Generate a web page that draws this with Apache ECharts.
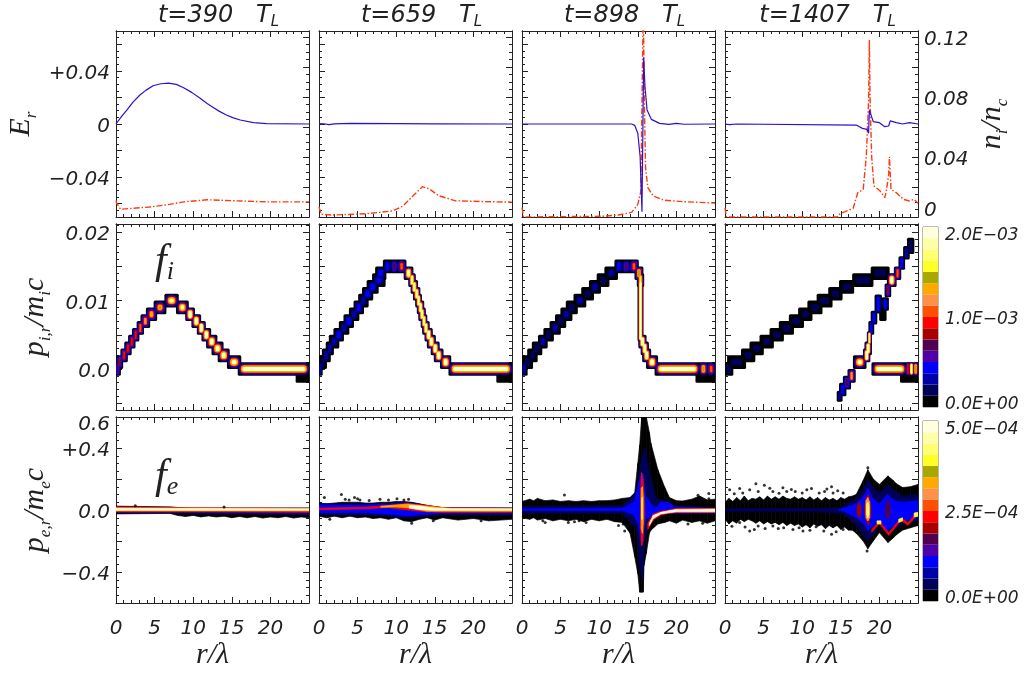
<!DOCTYPE html>
<html><head><meta charset="utf-8">
<style>html,body{margin:0;padding:0;background:#fff}#c{width:1024px;height:676px}</style>
<script src="https://cdn.jsdelivr.net/npm/echarts@6/dist/echarts.min.js"></script>
</head><body><div id="c"></div>
<script>
const times=['t=390','t=659','t=898','t=1407'];
const xLabels=[0,5,10,15,20];
const palette=['#000000','#000058','#0000a8','#0000ff','#5000a8','#500050','#a80000','#ff0000','#ff5000','#ff9048','#ffa800','#a8a800','#ffff28','#ffff70','#ffffa8','#ffffe0'];

/* Er and n_i rows: [r, value] */
const er390=[[0,0],[.7,.0055],[1.4,.0105],[2.2,.0165],[3.1,.0218],[3.9,.0255],[4.8,.0288],[5.8,.0303],[6.8,.0308],[7.8,.0298],[8.7,.0275],[9.8,.0238],[10.9,.0193],[11.8,.0155],[12.6,.0125],[13.4,.0095],[14.3,.0068],[15.2,.0046],[16.1,.003],[17.8,.001],[19.5,.00025],[25,0]];
const ni390=[[0,.011],[.1,.009],[.6,.0052],[4.4,.0067],[6.6,.0081],[8.8,.0101],[11.8,.0115],[15.4,.0108],[19.7,.0101],[25,.0101]];
const er659=[[0,.0003],[.6,.0002],[1.3,-.0005],[2,.0001],[4,.0004],[10,.0003],[15,.0001],[25,0]];
const ni659=[[0,.0067],[.3,.0018],[1.8,.0013],[6.1,.0022],[9.5,.004],[10.9,.0074],[12.2,.0142],[13.4,.0202],[14.3,.0187],[15.5,.0142],[17.7,.0108],[21.2,.0103],[25,.0099]];
const er898=[[0,0],[14.2,0],[14.6,-.001],[15.0,-.007],[15.3,-.0245],[15.54,-.066],[15.63,-.066],[15.76,.05],[15.93,.028],[16.2,.0105],[16.75,.0035],[17.83,.0005],[19,-.0003],[20,.0004],[21,-.0002],[25,0]];
const ni898=[[0,.0062],[.2,0],[10.5,.0005],[12.5,.0013],[14.2,.0031],[15.0,.0084],[15.4,.0173],[15.6,.1],[15.72,.14],[15.85,.0773],[16,.0329],[16.3,.0196],[17,.014],[18.3,.0113],[20.9,.0102],[25,.0093]];
const er1407=[[0,0],[.6,-.0005],[1.5,0],[17,-.0008],[17.8,-.0033],[18.4,-.004],[18.6,-.007],[18.7,.0105],[19.2,.0018],[20,.001],[20.7,-.002],[21.2,-.0015],[21.4,.0023],[22.2,.001],[23,0],[23.9,.001],[25,0]];
const ni1407=[[0,.006],[.2,0],[14.6,0],[14.9,.0022],[16.6,.0058],[17.2,.0162],[17.9,.0184],[18.3,.04],[18.6,.0773],[18.7,.118],[18.8,.0773],[19,.04],[19.3,.0207],[20.1,.0173],[20.7,.0129],[20.9,.0173],[21.2,.0284],[21.3,.0402],[21.5,.0184],[22.2,.0162],[23.1,.0118],[23.9,.0107],[24.5,.0118],[25,.0091]];

/* Ion phase-space cells: [r from, r to, p, peak colour level, half height (default .001)] */
const fi390=[[23.4,25,-.001,0],[0,.5,0,5],[.1,.8,.001,6],[.7,1.4,.002,7],[1.2,1.9,.003,7],[1.7,2.4,.004,7],[2.2,2.9,.005,7],[2.8,3.5,.006,8],[3.3,4.3,.007,9],[4,5.2,.008,10],[5,6.4,.009,11],[6.4,8,.01,14],[7.9,9.3,.009,14],[9.1,10.1,.008,15],[9.9,10.9,.007,15],[10.6,11.5,.006,15],[11.2,12.2,.005,15],[11.8,13,.004,15],[12.5,13.8,.003,15],[13.3,14.6,.002,15],[14.5,16.1,.001,15],[15.9,25,0,15]];
const fi659=[[23.1,25,-.001,0],[0,.35,0,2],[.1,.9,.001,1],[.5,1.4,.002,2],[1,1.8,.003,2],[1.4,2.5,.004,2],[2,3.1,.005,3],[2.7,3.8,.006,2],[3.3,4.4,.007,3],[4,5.1,.008,2],[4.6,5.7,.009,3],[5.2,6.3,.01,2],[5.7,6.9,.011,3],[6.3,7.6,.012,3],[7,8.5,.013,3],[7.4,8.6,.014,3],[8.4,9.3,.015,3],[9.3,10.2,.015,5],[10.2,11.2,.015,8],[11.1,12.1,.014,14],[11.7,12.4,.013,14],[12,12.7,.012,14],[12.3,13,.011,14],[12.6,13.2,.01,14],[12.8,13.5,.009,14],[13,13.7,.008,14],[13.3,13.9,.007,14],[13.5,14.2,.006,14],[13.8,14.6,.005,15],[14.1,15,.004,15],[14.6,15.5,.003,15],[15,16,.002,15],[15.8,17,.001,15],[16.9,25,0,15]];
const fi898=[[22.6,25,-.001,0],[0,.6,0,2],[.1,1.3,.001,1],[.8,1.9,.002,1],[1.4,2.5,.003,1],[2.2,3.2,.004,2],[2.9,4,.005,1],[3.7,4.9,.006,2],[4.4,5.6,.007,1],[5.1,6.4,.008,2],[5.8,7.1,.009,1],[6.8,8.2,.01,2],[7.8,9.2,.011,1],[8.8,10.1,.012,2],[9.8,11.2,.013,1],[10.8,12.3,.014,2],[12.1,13,.015,3],[13,14,.015,5],[14,15,.015,8],[14.7,15.6,.014,11],[15,15.7,.013,12],[15.1,15.6,.0085,15,.0045],[15.2,16,.004,15],[15.5,16.3,.003,15],[15.7,16.6,.002,15],[16.2,17.5,.001,15],[17.3,23,0,15],[23,24,0,11],[24,25,0,8]];
const fi1407=[[22.8,25,-.001,0],[0,.95,0,1],[.4,2.6,.001,1],[2.2,3.8,.002,1],[3.3,4.9,.003,1],[4.6,6.2,.004,1],[5.9,7.5,.005,1],[7.1,8.8,.006,1],[8.4,10.1,.007,1],[9.6,11.2,.008,1],[10.8,12.5,.009,1],[12,13.8,.01,1],[13.5,15.1,.011,1],[14.9,16.6,.012,1],[16.6,19.1,.013,1],[19,21.2,.014,1],[14.6,15.1,-.004,2,.0008],[14.9,15.6,-.003,3],[15.4,16.2,-.002,5],[16,16.8,-.001,9],[16.7,18.2,.001,15],[18,18.7,.002,15],[18.2,18.9,.003,15],[18.5,18.9,.0045,13],[18.7,19.2,.006,3],[19,19.6,.0075,3],[19.5,20.2,.0095,3,.0014],[20.1,20.8,.008,0],[20.4,21.1,.0095,3],[20.8,21.4,.0115,6],[21.1,22.1,.013,15],[22,22.7,.014,8],[22.6,23.2,.0155,3],[23.2,23.8,.017,2],[23.7,24.4,.018,1,.0012],[19.1,23.5,0,15],[23.5,23.9,0,7],[23.9,24.4,0,14],[24.4,25,0,11]];

/* Electron phase-space contours: [colour level, [[r, p low, p high], ...]] */
const fe390=[[0,[[0,-.025,.025],[7,-.022,.02],[8,-.035,.016],[9,-.042,.012],[10,-.035,.012],[11,-.045,.012],[12,-.038,.012],[13,-.045,.012],[14,-.04,.012],[15,-.05,.012],[16,-.042,.012],[17,-.05,.012],[18,-.042,.012],[19,-.052,.012],[20,-.045,.012],[21,-.05,.012],[22,-.042,.012],[23,-.052,.012],[24,-.045,.012],[25,-.05,.012]]],[2,[[0,-.018,.022],[7,-.018,.018],[10,-.02,.012],[25,-.028,.012]]],[7,[[0,-.012,.02],[10,-.012,.014],[25,-.015,.012]]],[10,[[0,-.006,.014],[25,-.006,.009]]],[15,[[0,-.0015,.01],[25,-.002,.007]]]];
const fe659=[[0,[[0,-.04,.045],[1,-.05,.04],[2,-.04,.045],[3,-.05,.05],[4,-.04,.05],[5,-.05,.05],[6,-.045,.045],[7,-.055,.045],[8,-.05,.05],[9,-.06,.05],[10,-.05,.055],[11,-.07,.055],[12,-.075,.05],[13,-.06,.04],[14,-.05,.03],[15,-.065,.022],[16,-.05,.015],[18,-.065,.012],[20,-.055,.012],[22,-.07,.012],[25,-.06,.012]]],[1,[[0,-.03,.04],[8,-.035,.04],[10,-.045,.045],[12,-.05,.048],[14,-.04,.028],[16,-.034,.015],[25,-.035,.012]]],[3,[[0,-.018,.032],[6,-.018,.032],[9,-.028,.038],[11.5,-.038,.046],[14,-.028,.025],[16,-.02,.015],[25,-.018,.012]]],[7,[[0,.002,.012],[6,.008,.018],[9,.016,.03],[11.5,0,.042],[14,-.012,.03],[16,-.015,.015],[25,-.015,.011]]],[10,[[8,.018,.024],[10,.02,.032],[11.5,.015,.038],[14,-.008,.025],[17,-.008,.011],[25,-.008,.009]]],[15,[[11.7,.012,.03],[13,.004,.026],[15,-.003,.012],[17,-.002,.008],[25,-.002,.007]]]];
const fe898=[[0,[[0,-.05,.055],[1,-.06,.07],[1.5,-.05,.06],[2,-.065,.075],[3,-.055,.06],[4,-.07,.065],[5,-.06,.055],[6,-.07,.06],[7,-.06,.055],[8,-.075,.06],[9,-.06,.055],[10,-.07,.06],[11,-.06,.06],[12,-.075,.065],[13,-.08,.075],[14,-.15,.08],[14.6,-.3,.11],[15,-.41,.3],[15.25,-.53,.42],[15.5,-.53,.6],[15.7,-.53,.6],[15.8,-.36,.6],[16.1,-.28,.6],[16.5,-.15,.5],[16.7,-.13,.43],[17.6,-.09,.26],[18.5,-.08,.145],[19.1,-.07,.08],[20,-.085,.06],[20.8,-.065,.058],[22,-.08,.07],[23,-.07,.09],[24,-.085,.065],[25,-.07,.07]]],[1,[[0,-.02,.025],[13,-.022,.028],[14.8,-.12,.12],[15.2,-.35,.25],[15.6,-.45,.35],[15.9,-.2,.4],[16.5,-.08,.25],[17.4,-.04,.07],[18.5,-.02,.06],[20,-.02,.02],[25,-.02,.01]]],[3,[[0,-.002,.006],[13,-.005,.012],[14.5,-.03,.05],[15.1,-.1,.17],[15.4,-.2,.22],[15.7,-.16,.23],[16,-.06,.09],[17,-.03,.02],[17.5,-.025,.02],[18,-.02,.05],[19,-.02,.05],[19.7,-.02,.02],[25,-.02,.01]]],[7,[[15.35,-.1,.1],[15.5,-.23,.24],[15.65,-.2,.2],[15.85,-.04,.05]]],[7,[[16.3,-.125,-.085],[17,-.065,-.025],[18,-.032,-.008],[19,-.022,0],[20,-.016,.01],[25,-.016,.011]]],[10,[[15.45,-.12,.14],[15.6,-.15,.15],[15.7,-.08,.08]]],[13,[[15.5,-.06,.08],[15.6,-.06,.08]]],[15,[[16.5,-.1,-.085],[17,-.055,-.035],[18,-.025,-.015],[19,-.018,-.005],[20,-.012,.004],[25,-.012,.006]]]];
const fe1407=[[0,[[0,-.06,.05],[.5,-.09,.075],[1,-.07,.055],[1.5,-.085,.08],[2,-.06,.06],[2.5,-.075,.09],[3,-.06,.06],[3.5,-.07,.075],[4,-.085,.07],[4.5,-.07,.085],[5,-.09,.065],[5.5,-.075,.09],[6,-.09,.07],[6.5,-.08,.085],[7,-.095,.07],[7.5,-.08,.09],[8,-.1,.075],[8.5,-.085,.07],[9,-.1,.085],[9.5,-.09,.07],[10,-.11,.08],[10.5,-.095,.065],[11,-.115,.085],[11.5,-.09,.065],[12,-.105,.08],[12.5,-.095,.06],[13,-.12,.08],[13.5,-.1,.065],[14,-.115,.075],[14.5,-.1,.06],[15,-.125,.08],[15.5,-.11,.07],[16,-.13,.085],[16.5,-.13,.09],[17,-.15,.1],[17.9,-.2,.19],[18.5,-.25,.26],[19.2,-.2,.2],[20,-.145,.165],[21.1,-.21,.22],[21.8,-.18,.19],[22.2,-.16,.17],[23,-.13,.145],[24,-.115,.15],[25,-.1,.165]]],[1,[[0,-.008,.008],[12,-.012,.01],[15,-.02,.015],[16.5,-.07,.06],[17,-.1,.08],[17.9,-.16,.13],[18.5,-.2,.2],[19.2,-.16,.14],[20,-.1,.11],[21.1,-.16,.16],[21.8,-.13,.13],[23,-.09,.09],[25,-.07,.1]]],[3,[[14.7,0,.001],[15.5,-.01,.015],[17,-.05,.04],[18,-.09,.09],[18.5,-.13,.14],[19.2,-.1,.07],[20,-.08,.04],[21,-.13,.1],[22,-.1,.06],[23,-.07,.05],[25,-.05,.06]]],[6,[[17.1,-.02,.02],[17.4,-.05,.05],[17.6,-.02,.02]]],[6,[[18.1,-.02,.02],[18.3,-.07,.08],[18.6,-.1,.1],[18.9,-.02,.02]]],[5,[[20.8,-.03,.03],[21.1,-.065,.07],[21.4,-.03,.03]]],[7,[[19,-.143,-.127],[20,-.088,-.072],[21.2,-.163,-.147],[22.8,-.068,-.052],[23.7,-.098,-.082],[24.8,-.038,-.022],[25,-.036,-.019]]],[9,[[18.25,-.05,.06],[18.5,-.07,.08],[18.75,-.05,.05]]],[13,[[18.35,-.03,.04],[18.5,-.05,.05],[18.65,-.03,.03]]],[12,[[19.7,-.09,-.07],[20.2,-.09,-.07]]],[12,[[22.5,-.08,-.06],[23,-.07,-.05]]],[12,[[24.5,-.045,-.02],[25,-.04,-.015]]]];

/* Isolated electron specks: [r, p] */
const sp390=[[2.5,.027],[14,.02]];
const sp659=[[.7,.08],[2.9,.1],[3.9,.065],[4.6,.08],[5.3,.065],[7.9,.07],[10.1,.073],[11,.065],[12,-.085],[14.8,-.07],[21,-.07],[1.4,-.06],[3.4,.07],[5,.072],[6.5,.062],[9,.065],[11.6,.07]];
const sp898=[[5.5,.097],[24.2,.107],[24.2,.073],[22.8,.095],[2.7,-.07],[6,-.08],[7.7,-.06],[13.3,-.135],[13.1,-.09],[20.2,-.07],[23.4,-.086],[3,-.08],[6.8,-.075],[7.4,-.07],[8.3,-.08],[21.5,-.09],[12.5,-.1],[13.8,-.12]];
const sp1407=[[.6,.13],[1.9,.138],[4,.17],[5.1,.16],[2.3,.11],[4.3,.12],[6.2,.12],[7.5,.144],[8,.12],[9.1,.12],[11.2,.138],[13.8,.15],[14,.11],[12.9,.12],[15.3,.11],[3.2,-.135],[4.3,-.103],[6.2,-.103],[6.9,-.12],[10.1,-.135],[11.8,-.108],[13.8,-.157],[15.3,-.125],[1.9,-.08],[18.4,-.265],[18.5,.273],[1.2,.105],[3.2,.13],[5.8,.14],[7,.108],[8.6,.132],[10,.11],[10.6,.13],[12.2,.11],[13.2,.135],[14.6,.125],[.9,-.105],[2.6,-.11],[3.8,-.125],[5.2,-.12],[7.6,-.115],[8.8,-.125],[9.6,-.115],[11,-.13],[12.8,-.135],[14.4,-.14]];

const erSets=[er390,er659,er898,er1407], niSets=[ni390,ni659,ni898,ni1407];
const fiSets=[fi390,fi659,fi898,fi1407], feSets=[fe390,fe659,fe898,fe1407], spSets=[sp390,sp659,sp898,sp1407];

const erLabelVals=[.04,0,-.04], erLabelText=['+0.04','0','\u22120.04'];
const niLabelVals=[0,.04,.08,.12], niLabelText=['0','0.04','0.08','0.12'];
const fiLabelVals=[0,.01,.02], fiLabelText=['0.0','0.01','0.02'];
const feLabelVals=[-.4,0,.4,.6], feLabelText=['\u22120.4','0.0','+0.4','0.6'];
const cbI=['0.0E+00','1.0E\u221203','2.0E\u221203'], cbE=['0.0E+00','2.5E\u221204','5.0E\u221204'];

const FONT='DejaVu Sans', SERIF='Liberation Serif', INK='#222', FS=20;
const lefts=[116,319,522,725], tops=[31,224,417], W=193, H=186;
const range=(a,b,s)=>{const o=[];const n=Math.round((b-a)/s);for(let i=0;i<=n;i++)o.push(+(a+i*s).toFixed(5));return o;};
const tok=(family,size,lh,pad,va)=>({fontFamily:family,fontStyle:'italic',fontWeight:'normal',fontSize:size,color:INK,lineHeight:lh,padding:pad,verticalAlign:va});
const rich={
 b:tok(SERIF,30,34,[0,0,0,0],'top'),
 s:tok(SERIF,17,14,[22,0,0,0],'bottom'),
 t:tok(FONT,24,26,[0,0,0,0],'top'),
 ts:tok(FONT,15,14,[20,0,0,0],'bottom'),
 f:tok(SERIF,42,44,[0,0,0,0],'top'),
 fs:tok(SERIF,26,24,[20,0,0,0],'bottom')
};
const labelRich={
 n:{fontFamily:FONT,fontStyle:'italic',fontSize:FS,color:INK,padding:[6,0,0,0]},
 z:{fontFamily:FONT,fontStyle:'italic',fontSize:FS,color:INK,padding:[0,0,12,0]},
 h:{fontFamily:FONT,fontStyle:'italic',fontSize:FS,color:INK,padding:[16,0,0,0]},
 c:{fontFamily:FONT,fontStyle:'italic',fontSize:17,color:INK,padding:[6,0,0,0]}
};

const grid=[],xAxis=[],yAxis=[],series=[],title=[];
function addY(g,pos,min,max,majors,minors,labelVals,labelText,name,nameGap){
  const base={gridIndex:g,type:'value',position:pos,min,max,splitLine:{show:false},axisLine:{show:true,onZero:false,lineStyle:{color:INK,width:1}}};
  const major=Object.assign({},base,{
    axisTick:{show:true,inside:true,length:6,customValues:majors,lineStyle:{color:INK}},
    axisLabel:labelVals?{show:true,margin:6,customValues:labelVals,rich:labelRich,
      formatter:v=>{const i=labelVals.findIndex(q=>Math.abs(q-v)<1e-9);if(i<0)return '';
        const key=(v===max&&v===.6)?'h':(v===min&&pos==='right')?'z':'n';return '{'+key+'|'+labelText[i]+'}';}}:{show:false}
  });
  if(name){major.name=name;major.nameLocation='middle';major.nameGap=nameGap;major.nameRotate=90;major.nameTextStyle={rich};}
  yAxis.push(major);
  const idx=yAxis.length-1;
  yAxis.push(Object.assign({},base,{axisTick:{show:true,inside:true,length:3,customValues:minors,lineStyle:{color:INK}},axisLabel:{show:false}}));
  return idx;
}
function addX(g,row){
  const mk=(pos,lab)=>({gridIndex:g,type:'value',position:pos,min:0,max:25,interval:5,splitLine:{show:false},
    axisLine:{show:true,onZero:false,lineStyle:{color:INK,width:1}},
    axisTick:{show:true,inside:true,length:6,lineStyle:{color:INK}},minorTick:{show:true,splitNumber:5,length:3,lineStyle:{color:INK}},
    axisLabel:lab?{show:true,margin:16,customValues:xLabels,fontFamily:FONT,fontStyle:'italic',fontSize:FS,color:INK}:{show:false}});
  const bottom=mk('bottom',row===2);
  if(row===2){bottom.name='{b|r/\u03bb}';bottom.nameLocation='middle';bottom.nameGap=32;bottom.nameTextStyle={rich};}
  xAxis.push(bottom);const idx=xAxis.length-1;xAxis.push(mk('top',false));return idx;
}
function cellItem(params,api){
  const r0=api.value(0),r1=api.value(1),p=api.value(2),hh=api.value(3),k=api.value(4),lvl=api.value(5);
  const a=api.coord([r0,p+hh]),b=api.coord([r1,p-hh]);
  a[0]-=1;b[0]+=1;
  const hw=(b[0]-a[0])/2,hh2=(b[1]-a[1])/2,m=Math.min(hw,hh2);
  const ins=k===0?0:lvl<3?m*(0.12+0.75*k/(lvl+1)):m*(0.06+0.8*k/(lvl+1));
  return {type:'rect',shape:{x:a[0]+ins,y:a[1]+ins,width:b[0]-a[0]-2*ins,height:b[1]-a[1]-2*ins,r:k===0?1.5:(m-ins)*0.9},style:{fill:palette[k]},silent:true};
}
function bandItem(params,api){
  const k=api.value(6);
  const pts=[api.coord([api.value(0),api.value(1)]),api.coord([api.value(3),api.value(4)]),api.coord([api.value(3),api.value(5)]),api.coord([api.value(0),api.value(2)])];
  return {type:'polygon',shape:{points:pts},style:{fill:palette[k],stroke:palette[k],lineWidth:.7},silent:true};
}
function barItem(params,api){
  const a=api.coord([0,api.value(1)]),b=api.coord([1,api.value(0)]);
  return {type:'rect',shape:{x:a[0],y:a[1],width:b[0]-a[0],height:b[1]-a[1]},style:{fill:palette[api.value(2)]},silent:true};
}
for(let c=0;c<4;c++){
  title.push({text:'{t|'+times[c]+'   T}{ts|L}',left:lefts[c]+W/2+1,top:-1,textAlign:'center',textStyle:{rich,fontWeight:'normal'}});
  grid.push({left:lefts[c],top:tops[0],width:W,height:H});
  let g=grid.length-1,x=addX(g,0);
  const yE=addY(g,'left',-.07,.07,range(-.06,.06,.02),range(-.07,.07,.005),c===0?erLabelVals:null,erLabelText,c===0?'{b|E}{s|r}':null,76);
  const yN=addY(g,'right',0,.124,range(0,.12,.02),range(0,.12,.005),c===3?niLabelVals:null,niLabelText,c===3?'{b|n}{s|i}{b|/n}{s|c}':null,58);
  series.push({type:'line',name:'n'+c,xAxisIndex:x,yAxisIndex:yN,data:niSets[c],showSymbol:false,clip:true,animation:false,lineStyle:{color:'#ff3a10',width:1.4,type:[6,2,1.5,2]}});
  series.push({type:'line',name:'E'+c,xAxisIndex:x,yAxisIndex:yE,data:erSets[c],showSymbol:false,clip:true,animation:false,lineStyle:{color:'#3010c8',width:1.2}});
  grid.push({left:lefts[c],top:tops[1],width:W,height:H});
  g=grid.length-1;x=addX(g,1);
  const yI=addY(g,'left',-.006,.0212,range(-.005,.02,.005),range(-.006,.021,.001),c===0?fiLabelVals:null,fiLabelText,c===0?'{b|p}{s|i,r}{b|/m}{s|i}{b|c}':null,62);
  addY(g,'right',-.006,.0212,range(-.005,.02,.005),range(-.006,.021,.001));
  const cells=[];
  for(let k=0;k<16;k++)for(const q of fiSets[c])if(q[3]>=k)cells.push([q[0],q[1],q[2],q[4]||.001,k,q[3]]);
  series.push({type:'custom',name:'fi'+c,xAxisIndex:x,yAxisIndex:yI,renderItem:cellItem,data:cells,encode:{x:[0,1],y:2},clip:true,animation:false,silent:true});
  grid.push({left:lefts[c],top:tops[2],width:W,height:H});
  g=grid.length-1;x=addX(g,2);
  const yF=addY(g,'left',-.6,.6,range(-.6,.6,.2),range(-.6,.6,.05),c===0?feLabelVals:null,feLabelText,c===0?'{b|p}{s|e,r}{b|/m}{s|e}{b|c}':null,62);
  addY(g,'right',-.6,.6,range(-.6,.6,.2),range(-.6,.6,.05));
  const segs=[];
  for(const b of feSets[c]){const l=b[0],s=b[1];for(let i=0;i+1<s.length;i++)segs.push([s[i][0],s[i][1],s[i][2],s[i+1][0],s[i+1][1],s[i+1][2],l]);}
  series.push({type:'scatter',name:'sp'+c,xAxisIndex:x,yAxisIndex:yF,data:spSets[c],symbol:'circle',symbolSize:3,itemStyle:{color:'#000'},animation:false,silent:true});
  series.push({type:'custom',name:'fe'+c,xAxisIndex:x,yAxisIndex:yF,renderItem:bandItem,data:segs,encode:{x:[0,3],y:[1,2]},clip:true,animation:false,silent:true});
}
function colourBar(top,height,maxVal,labels){
  const step=maxVal/15,min=-step/2,max=maxVal+step/2;
  grid.push({left:923,top,width:15,height,show:true,borderColor:'#77775f',borderWidth:1,backgroundColor:'transparent'});
  const g=grid.length-1;
  xAxis.push({gridIndex:g,type:'value',min:0,max:1,show:false});
  const vals=[0,maxVal/2,maxVal];
  yAxis.push({gridIndex:g,type:'value',position:'right',min,max,splitLine:{show:false},axisLine:{show:false},axisTick:{show:false},
    axisLabel:{show:true,margin:7,customValues:vals,rich:labelRich,formatter:v=>{const i=vals.findIndex(q=>Math.abs(q-v)<maxVal/100);return i<0?'':'{c|'+labels[i]+'}';}}});
  const d=palette.map((_,k)=>[min+k*step,min+(k+1)*step,k]);
  series.push({type:'custom',name:'bar'+g,xAxisIndex:xAxis.length-1,yAxisIndex:yAxis.length-1,renderItem:barItem,data:d,encode:{y:[0,1]},clip:false,animation:false,silent:true,z:1});
}
colourBar(227,180,2e-3,cbI);
colourBar(421,180,5e-4,cbE);
title.push({text:'{f|f}{fs|i}',left:150,top:236,textStyle:{rich,fontWeight:'normal'}});
title.push({text:'{f|f}{fs|e}',left:150,top:451,textStyle:{rich,fontWeight:'normal'}});

const chart=echarts.init(document.getElementById('c'),null,{renderer:'canvas'});
chart.setOption({animation:false,backgroundColor:'#fff',title,grid,xAxis,yAxis,series});
</script></body></html>
